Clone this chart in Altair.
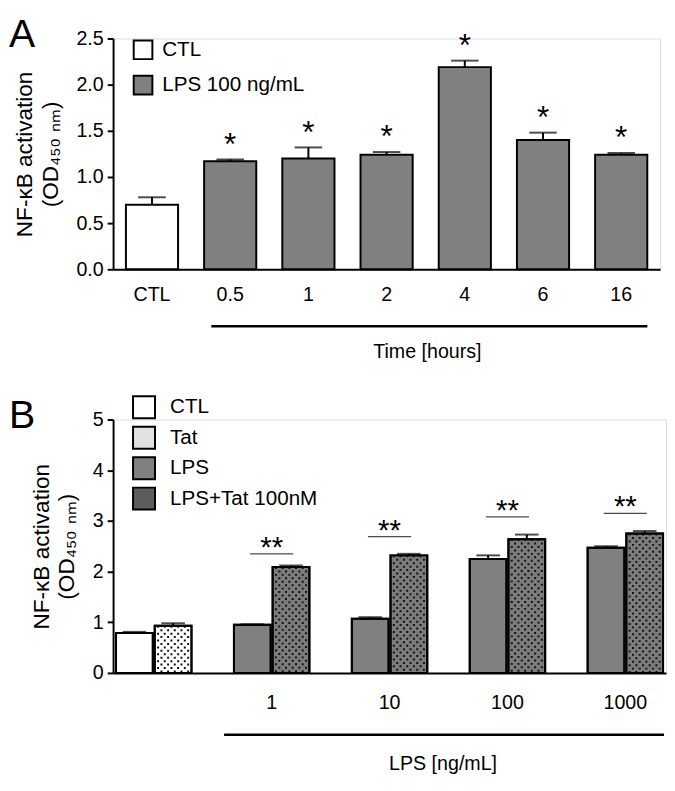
import altair as alt
import pandas as pd

FONT = "Liberation Sans"
GRAY = "#808080"

# ---------------- Panel A data ----------------
a_cats = ["CTL", "0.5", "1", "2", "4", "6", "16"]
a_groups = ["CTL", "LPS 100 ng/mL", "LPS 100 ng/mL", "LPS 100 ng/mL",
            "LPS 100 ng/mL", "LPS 100 ng/mL", "LPS 100 ng/mL"]
a_mean = [0.70, 1.17, 1.20, 1.24, 2.19, 1.40, 1.24]
a_sem = [0.08, 0.02, 0.12, 0.03, 0.07, 0.08, 0.02]
a_stars = ["", "*", "*", "*", "*", "*", "*"]
a_ticks = [0.0, 0.5, 1.0, 1.5, 2.0, 2.5]
a_legend = ["CTL", "LPS 100 ng/mL"]

# ---------------- Panel B data ----------------
b_doses = ["0", "1", "10", "100", "1000"]
b_dose = ["0", "0", "1", "1", "10", "10", "100", "100", "1000", "1000"]
b_slot = ["L", "R", "L", "R", "L", "R", "L", "R", "L", "R"]
b_series = ["CTL", "Tat", "LPS", "LPS+Tat 100nM", "LPS", "LPS+Tat 100nM",
            "LPS", "LPS+Tat 100nM", "LPS", "LPS+Tat 100nM"]
b_mean = [0.79, 0.93, 0.95, 2.09, 1.07, 2.32, 2.25, 2.64, 2.47, 2.75]
b_sem = [0.02, 0.05, 0.01, 0.03, 0.03, 0.03, 0.07, 0.09, 0.03, 0.05]
b_sig_dose = ["1", "10", "100", "1000"]
b_sig_y = [2.35, 2.69, 3.08, 3.15]
b_sig_text = ["**", "**", "**", "**"]
b_ticks = [0, 1, 2, 3, 4, 5]
b_legend = ["CTL", "Tat", "LPS", "LPS+Tat 100nM"]

Y_TITLE = ["NF-\u03baB activation", "(OD\u2084\u2085\u2080 \u2099\u2098)"]

A_W, A_H = 557, 235
B_W, B_H = 563, 258


def y_axis(ticks, fmt):
    return alt.Axis(values=ticks, format=fmt, title=Y_TITLE, grid=False,
                    domainColor="black", domainWidth=2, tickColor="black",
                    tickWidth=2, tickSize=6, labelFont=FONT, labelFontSize=20,
                    labelColor="black", labelPadding=4, titleFont=FONT,
                    titleFontSize=23, titleFontWeight="normal",
                    titleColor="black", titleLineHeight=26, titlePadding=14)


def x_axis(pad, expr=None):
    kw = dict(title=None, labelAngle=0, ticks=False, labelPadding=pad,
              labelFont=FONT, labelFontSize=20, labelColor="black",
              domainColor="black", domainWidth=2, grid=False)
    if expr:
        kw["labelExpr"] = expr
    return alt.Axis(**kw)


# ================= Panel A =================
a_df = pd.DataFrame({"cat": a_cats, "grp": a_groups, "mean": a_mean,
                     "sem": a_sem, "star": a_stars})
a_base = alt.Chart(a_df).transform_calculate(top="datum.mean + datum.sem")
xa_scale = alt.Scale(paddingInner=0.333, paddingOuter=0.164)
ya_scale = alt.Scale(domain=[0, 2.5], nice=False)


def xa():
    return alt.X("cat:N", sort=a_cats, scale=xa_scale, axis=x_axis(16))


def ya(field):
    return alt.Y(f"{field}:Q", scale=ya_scale, axis=y_axis(a_ticks, ".1f"))


a_bars = a_base.mark_bar(stroke="black", strokeWidth=2).encode(
    x=xa(), y=ya("mean"),
    color=alt.Color("grp:N", scale=alt.Scale(domain=a_legend, range=["white", GRAY]),
                    legend=alt.Legend(title=None, orient="none", legendX=20, legendY=1,
                                      symbolType="square", symbolSize=361,
                                      symbolStrokeColor="black", symbolStrokeWidth=2,
                                      labelFont=FONT, labelFontSize=21, labelColor="black",
                                      labelOffset=9, rowPadding=9)))
a_err = a_base.mark_rule(color="black", strokeWidth=2).encode(
    x=xa(), y=ya("mean"), y2="top:Q")
a_cap = a_base.mark_tick(orient="horizontal", size=28, thickness=2, color="black").encode(
    x=xa(), y=ya("top"))
a_star = a_base.mark_text(font=FONT, fontSize=32, baseline="alphabetic", dy=-5,
                          color="black").encode(x=xa(), y=ya("top"), text="star:N")

a_br_df = pd.DataFrame({"lab": ["Time [hours]"]})
a_bracket = alt.Chart(a_br_df).mark_rule(color="black", strokeWidth=2.5).encode(
    x=alt.value(100), x2=alt.value(544), y=alt.value(A_H + 58))
a_blab = alt.Chart(a_br_df).mark_text(font=FONT, fontSize=20, color="black",
                                      baseline="middle").encode(
    x=alt.value(320), y=alt.value(A_H + 84), text="lab:N")
a_letter = alt.Chart(pd.DataFrame({"t": ["A"]})).mark_text(
    font=FONT, fontSize=40, align="left", baseline="top", color="black").encode(
    x=alt.value(-106), y=alt.value(-23), text="t:N")

panel_a = alt.layer(a_bars, a_err, a_cap, a_star, a_bracket, a_blab, a_letter).properties(
    width=A_W, height=A_H)

# ================= Panel B =================
b_df = pd.DataFrame({"dose": b_dose, "slot": b_slot, "series": b_series,
                     "mean": b_mean, "sem": b_sem})
b_base = alt.Chart(b_df).transform_calculate(top="datum.mean + datum.sem")
xb_scale = alt.Scale(paddingInner=0.36, paddingOuter=0.025)
yb_scale = alt.Scale(domain=[0, 5], nice=False)
off_scale = alt.Scale(paddingInner=0.05, paddingOuter=0)


def xb():
    return alt.X("dose:N", sort=b_doses, scale=xb_scale,
                 axis=x_axis(20, "datum.value == '0' ? '' : datum.value"))


def yb(field):
    return alt.Y(f"{field}:Q", scale=yb_scale, axis=y_axis(b_ticks, "d"))


xoff = alt.XOffset("slot:N", sort=["L", "R"], scale=off_scale)

# legend-only layer (zero-height bars) carrying the averaged legend colours
b_legend_layer = b_base.mark_bar().encode(
    x=xb(), xOffset=xoff, y=alt.datum(0), y2=alt.datum(0),
    color=alt.Color("series:N",
                    scale=alt.Scale(domain=b_legend,
                                    range=["#ffffff", "#e2e2e2", GRAY, "#5c5c5c"]),
                    legend=alt.Legend(title=None, orient="none", legendX=19, legendY=-25,
                                      symbolType="square", symbolSize=500,
                                      symbolStrokeColor="black", symbolStrokeWidth=2,
                                      symbolOpacity=1,
                                      labelFont=FONT, labelFontSize=21, labelColor="black",
                                      labelOffset=14, rowPadding=0)))

b_bars = b_base.mark_bar(stroke="black", strokeWidth=2).encode(
    x=xb(), xOffset=xoff, y=yb("mean"),
    fill=alt.Fill("series:N",
                  scale=alt.Scale(domain=b_legend,
                                  range=["white", "white", GRAY, "#7c7c7c"]),
                  legend=None))

# dotted texture for the Tat-containing (right-hand) bars: columns of dashes
dot_layers = []
n_cols = 10
r_center = 19.7  # offset of the right-hand sub-band centre from the group centre
for k in range(n_cols):
    off = r_center + (k - (n_cols - 1) / 2) * 3.4
    dot_layers.append(
        b_base.transform_filter("datum.slot == 'R'").mark_rule(
            xOffset=off, strokeDash=[2, 5], strokeDashOffset=(3.5 if k % 2 else 0),
            strokeWidth=2, color="#111111", strokeCap="butt").encode(
            x=xb(), y=yb("mean"), y2=alt.datum(0)))

b_outline = b_base.mark_bar(stroke="black", strokeWidth=2, fillOpacity=0).encode(
    x=xb(), xOffset=xoff, y=yb("mean"))
b_err = b_base.mark_rule(color="black", strokeWidth=2).encode(
    x=xb(), xOffset=xoff, y=yb("mean"), y2="top:Q")
b_cap = b_base.mark_tick(orient="horizontal", size=24, thickness=2, color="black").encode(
    x=xb(), xOffset=xoff, y=yb("top"))

sig_df = pd.DataFrame({"dose": b_sig_dose, "ly": b_sig_y, "txt": b_sig_text})
b_sig_line = alt.Chart(sig_df).mark_tick(orient="horizontal", size=44, thickness=1.3,
                                        color="black").encode(x=xb(), y=yb("ly"))
b_sig_txt = alt.Chart(sig_df).mark_text(font=FONT, fontSize=30, baseline="alphabetic",
                                       dy=3, color="black").encode(
    x=xb(), y=yb("ly"), text="txt:N")

b_br_df = pd.DataFrame({"lab": ["LPS [ng/mL]"]})
b_bracket = alt.Chart(b_br_df).mark_rule(color="black", strokeWidth=2.5).encode(
    x=alt.value(113), x2=alt.value(561), y=alt.value(B_H + 63))
b_blab = alt.Chart(b_br_df).mark_text(font=FONT, fontSize=20, color="black",
                                      baseline="middle").encode(
    x=alt.value(336), y=alt.value(B_H + 93), text="lab:N")
b_letter = alt.Chart(pd.DataFrame({"t": ["B"]})).mark_text(
    font=FONT, fontSize=40, align="left", baseline="top", color="black").encode(
    x=alt.value(-106), y=alt.value(-23), text="t:N")

panel_b = alt.layer(b_legend_layer, b_bars, *dot_layers, b_outline, b_err, b_cap,
                    b_sig_line, b_sig_txt, b_bracket, b_blab, b_letter).properties(
    width=B_W, height=B_H)

chart = alt.vconcat(panel_a, panel_b, spacing=153, bounds="flush").resolve_scale(
    color="independent", x="independent", y="independent"
).properties(padding={"left": 0, "top": 0, "right": 0, "bottom": 0}).configure_view(
    stroke=None).configure(background="white")

chart.save("out.html", embed_options={"renderer": "svg", "actions": False})
